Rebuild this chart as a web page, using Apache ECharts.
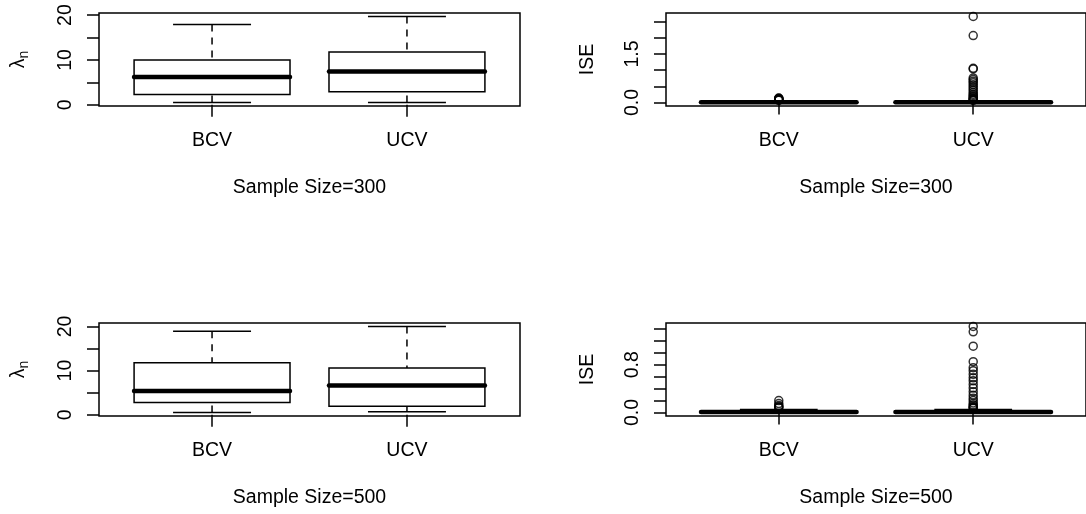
<!DOCTYPE html>
<html>
<head>
<meta charset="utf-8">
<script src="https://cdn.jsdelivr.net/npm/echarts@6/dist/echarts.min.js"></script>
<style>
  html, body { margin: 0; padding: 0; background: #fff; }
  #chart { width: 1086px; height: 514px; }
</style>
</head>
<body>
<div id="chart"></div>
<script>
// Bandwidth selectors compared on two sample sizes
const categories = ['BCV', 'UCV'];

// Five-number summaries per method: [lower whisker, Q1, median, Q3, upper whisker]
const lambda300 = [[0.5, 2.3, 6.2, 10.0, 17.9], [0.5, 2.9, 7.4, 11.8, 19.7]];
const lambda500 = [[0.5, 2.8, 5.4, 11.8, 18.9], [0.7, 1.95, 6.65, 10.6, 20.0]];
const ise300 = [[0.0, 0.004, 0.01, 0.02, 0.045], [0.0, 0.005, 0.012, 0.024, 0.05]];
const ise500 = [[0.0, 0.005, 0.01, 0.02, 0.05], [0.0, 0.005, 0.011, 0.022, 0.05]];

// Outlying ISE values
const ise300Out = [
  [0.14, 0.13, 0.12, 0.11, 0.1, 0.09, 0.08, 0.07],
  [2.66, 2.07, 1.06, 1.04, 0.76, 0.71, 0.66, 0.61, 0.55, 0.49, 0.43, 0.37, 0.31, 0.26, 0.22, 0.18, 0.15, 0.12, 0.1, 0.08, 0.07]
];
const ise500Out = [
  [0.2, 0.15, 0.12, 0.1, 0.09, 0.08],
  [1.44, 1.35, 1.11, 0.85, 0.75, 0.7, 0.64, 0.58, 0.53, 0.47, 0.41, 0.35, 0.29, 0.24, 0.2, 0.16, 0.13, 0.11, 0.09, 0.08, 0.07]
];

// Axis ticks and the subset that carries labels
const lambdaTicks = [0, 5, 10, 15, 20];
const lambdaLabels = [0, 10, 20];
const ise300Ticks = [0, 0.5, 1, 1.5, 2, 2.5];
const ise300Labels = [0, 1.5];
const ise500Ticks = [0, 0.2, 0.4, 0.6, 0.8, 1, 1.2, 1.4];
const ise500Labels = [0, 0.8];

const panelTitles = ['Sample Size=300', 'Sample Size=300', 'Sample Size=500', 'Sample Size=500'];

const FONT = '"Liberation Sans", Arial, Helvetica, sans-serif';
const FS = 19.5;
const LW = 1.5;

const panels = [
  { stats: lambda300, out: [[], []], ticks: lambdaTicks, labels: lambdaLabels, dec: 0, ylab: 'lambda' },
  { stats: ise300, out: ise300Out, ticks: ise300Ticks, labels: ise300Labels, dec: 1, ylab: 'ISE' },
  { stats: lambda500, out: [[], []], ticks: lambdaTicks, labels: lambdaLabels, dec: 0, ylab: 'lambda' },
  { stats: ise500, out: ise500Out, ticks: ise500Ticks, labels: ise500Labels, dec: 1, ylab: 'ISE' }
];

const grids = [
  { left: 99, top: 13, width: 421, height: 93 },
  { left: 666, top: 13, width: 421, height: 93 },
  { left: 99, top: 323, width: 421, height: 93 },
  { left: 666, top: 323, width: 421, height: 93 }
];

// y range as in base graphics: data range padded by 4% on each side
function yRange(p) {
  const vals = [];
  p.stats.forEach(s => vals.push(...s));
  p.out.forEach(o => vals.push(...o));
  const lo = Math.min(...vals), hi = Math.max(...vals);
  const pad = 0.04 * (hi - lo);
  return [lo - pad, hi + pad];
}

function renderBox(params, api) {
  const x = api.value(0);
  const lo = api.value(1), q1 = api.value(2), med = api.value(3), q3 = api.value(4), hi = api.value(5);
  const halfBox = 0.4, halfCap = 0.2;
  const tl = api.coord([x - halfBox, q3]);
  const br = api.coord([x + halfBox, q1]);
  const mL = api.coord([x - halfBox, med]);
  const mR = api.coord([x + halfBox, med]);
  const cTop = api.coord([x, hi]);
  const cBot = api.coord([x, lo]);
  const capL = api.coord([x - halfCap, hi])[0];
  const capR = api.coord([x + halfCap, hi])[0];
  const black = { stroke: '#000', lineWidth: LW, fill: null };
  const dashed = { stroke: '#000', lineWidth: LW, lineDash: [7, 6] };
  return {
    type: 'group',
    children: [
      { type: 'line', shape: { x1: cTop[0], y1: cTop[1], x2: cTop[0], y2: tl[1] }, style: dashed },
      { type: 'line', shape: { x1: cBot[0], y1: cBot[1], x2: cBot[0], y2: br[1] }, style: dashed },
      { type: 'line', shape: { x1: capL, y1: cTop[1], x2: capR, y2: cTop[1] }, style: black },
      { type: 'line', shape: { x1: capL, y1: cBot[1], x2: capR, y2: cBot[1] }, style: black },
      { type: 'rect', shape: { x: tl[0], y: tl[1], width: br[0] - tl[0], height: br[1] - tl[1] }, style: black },
      { type: 'line', shape: { x1: mL[0], y1: mL[1], x2: mR[0], y2: mR[1] }, style: { stroke: '#000', lineWidth: 4.5, lineCap: 'round' } }
    ]
  };
}

const xAxes = [], yAxes = [], series = [];
panels.forEach((p, i) => {
  const [ymin, ymax] = yRange(p);
  const catPos = categories.map((c, k) => k + 1);
  xAxes.push({
    type: 'value', gridIndex: i, min: 0.42, max: 2.58,
    axisLine: { show: false },
    splitLine: { show: false },
    axisTick: { show: true, customValues: catPos, length: 12, inside: false, lineStyle: { color: '#000', width: LW } },
    axisLabel: {
      show: true, customValues: catPos, margin: 25,
      color: '#000', fontFamily: FONT, fontSize: FS,
      formatter: v => categories[Math.round(v) - 1] || ''
    },
    name: panelTitles[i], nameLocation: 'middle', nameGap: 72,
    nameTextStyle: { color: '#000', fontFamily: FONT, fontSize: FS }
  });
  const yname = p.ylab === 'lambda' ? '{a|λ}{b|n}' : 'ISE';
  yAxes.push({
    type: 'value', gridIndex: i, min: ymin, max: ymax,
    axisLine: { show: false },
    splitLine: { show: false },
    axisTick: { show: true, customValues: p.ticks, length: 12, inside: false, lineStyle: { color: '#000', width: LW } },
    axisLabel: {
      show: true, customValues: p.labels, rotate: 90, margin: 23,
      color: '#000', fontFamily: FONT, fontSize: FS,
      formatter: v => Number(v).toFixed(p.dec)
    },
    name: yname, nameLocation: 'middle', nameRotate: 90, nameGap: 68,
    nameTextStyle: {
      color: '#000', fontFamily: FONT, fontSize: FS,
      rich: {
        a: { fontFamily: FONT, fontSize: FS, color: '#000' },
        b: { fontFamily: FONT, fontSize: 14, color: '#000', padding: [10, 0, 0, 0] }
      }
    }
  });
  series.push({
    type: 'custom', xAxisIndex: i, yAxisIndex: i,
    renderItem: renderBox,
    encode: { x: 0, y: [1, 2, 3, 4, 5] },
    data: p.stats.map((s, k) => [k + 1, ...s]),
    silent: true, z: 2
  });
  const pts = [];
  p.out.forEach((vals, k) => vals.forEach(v => pts.push([k + 1, v])));
  if (pts.length) {
    series.push({
      type: 'scatter', xAxisIndex: i, yAxisIndex: i,
      data: pts, symbol: 'circle', symbolSize: 8,
      itemStyle: { color: 'rgba(0,0,0,0)', borderColor: '#000', borderWidth: 1.5 },
      silent: true, z: 3
    });
  }
});

const chart = echarts.init(document.getElementById('chart'), null, { renderer: 'canvas' });
chart.setOption({
  animation: false,
  backgroundColor: '#fff',
  grid: grids.map(g => Object.assign({ show: true, borderColor: '#000', borderWidth: LW, backgroundColor: 'transparent' }, g)),
  xAxis: xAxes,
  yAxis: yAxes,
  series: series
});
</script>
</body>
</html>
